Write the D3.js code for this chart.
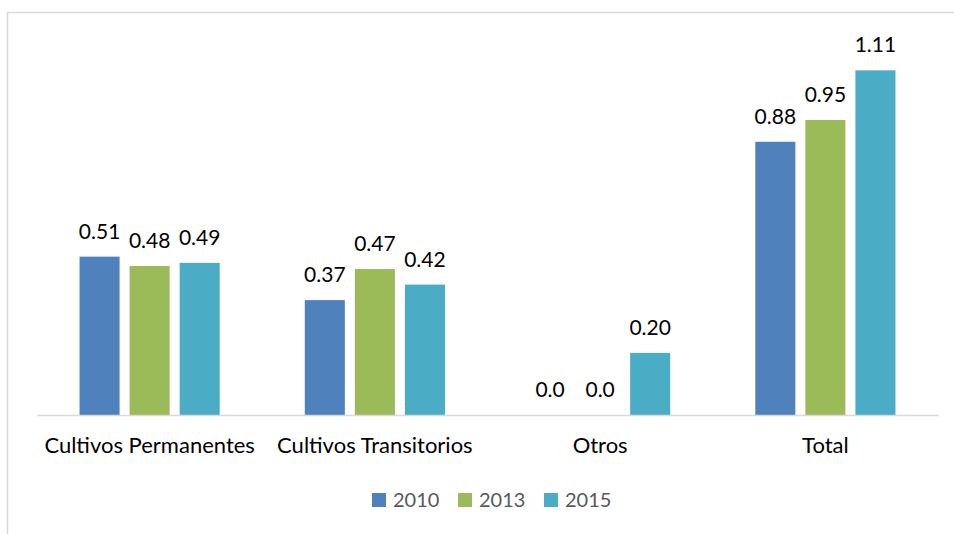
<!doctype html>
<html lang="es">
  <head>
    <meta charset="utf-8">
    <title>Cultivos</title>
    <style>
      body { margin: 0; background: #fff; }
      text { font-family: Lato, "Open Sans", sans-serif; }
    </style>
  </head>
  <body>
    <div id="chart"></div>

    <script src="https://d3js.org/d3.v7.min.js"></script>
    <script type="text/javascript">
      const w = 954;
      const h = 534;

      // data
      const categories = ["Cultivos Permanentes", "Cultivos Transitorios", "Otros", "Total"];
      const years = ["2010", "2013", "2015"];
      const v2010 = [0.51, 0.37, 0.0, 0.88];
      const v2013 = [0.48, 0.47, 0.0, 0.95];
      const v2015 = [0.49, 0.42, 0.20, 1.11];
      const colors = ["#4f81bd", "#9bbb59", "#4bacc6"];

      const series = [v2010, v2013, v2015];

      const svg = d3.select('#chart')
                    .append('svg')
                    .attr("width", w)
                    .attr("height", h);

      // chart border (only left and top edges show in the frame)
      svg.append('rect')
        .attr('x', 7.5)
        .attr('y', 12.5)
        .attr('width', 980)
        .attr('height', 560)
        .attr('fill', 'white')
        .attr('stroke', '#d9d9d9')
        .attr('stroke-width', 1.5);

      const x0 = d3.scaleBand()
                   .domain(categories)
                   .range([37, 938]);

      const x1 = d3.scaleBand()
                   .domain(years)
                   .range([0, x0.bandwidth()])
                   .paddingInner(0.2)
                   .paddingOuter(0.85);

      const y = d3.scaleLinear()
                  .domain([0, 1.2])
                  .range([415, 42.4]);

      const fmt = d => d === 0 ? "0.0" : d.toFixed(2);

      const rows = [];
      series.forEach((vals, j) => {
        vals.forEach((v, i) => {
          rows.push({cat: categories[i], year: years[j], value: v, color: colors[j]});
        });
      });

      svg.selectAll('.bar')
         .data(rows.filter(d => d.value > 0))
         .enter()
         .append('rect')
         .attr('class', 'bar')
         .attr('x', d => x0(d.cat) + x1(d.year))
         .attr('y', d => y(d.value))
         .attr('width', x1.bandwidth())
         .attr('height', d => y(0) - y(d.value))
         .attr('fill', d => d.color);

      svg.selectAll('.lbl')
         .data(rows)
         .enter()
         .append('text')
         .attr('class', 'lbl')
         .attr('x', d => x0(d.cat) + x1(d.year) + x1.bandwidth() / 2)
         .attr('y', d => y(d.value) - 18)
         .attr('text-anchor', 'middle')
         .attr('font-size', 21)
         .attr('fill', '#000')
         .text(d => fmt(d.value));

      // x axis
      const xAxis = svg.append('g')
        .attr('transform', `translate(0,${y(0)})`)
        .call(d3.axisBottom(x0).tickSize(0).tickPadding(0));
      xAxis.select('.domain')
        .attr('stroke', '#d9d9d9')
        .attr('stroke-width', 1.5);
      xAxis.selectAll('text')
        .attr('y', 38)
        .attr('dy', null)
        .attr('font-size', 22)
        .attr('font-family', 'Lato, "Open Sans", sans-serif')
        .attr('fill', '#000');

      // legend
      const legend = svg.selectAll('.leg')
        .data(years)
        .enter()
        .append('g')
        .attr('class', 'leg')
        .attr('transform', (d, i) => `translate(${372 + i * 86},0)`);
      legend.append('rect')
        .attr('x', 0)
        .attr('y', 493)
        .attr('width', 14)
        .attr('height', 14)
        .attr('fill', (d, i) => colors[i]);
      legend.append('text')
        .attr('x', 21)
        .attr('y', 507)
        .attr('font-size', 20)
        .attr('fill', '#595959')
        .text(d => d);
    </script>
  </body>
</html>
